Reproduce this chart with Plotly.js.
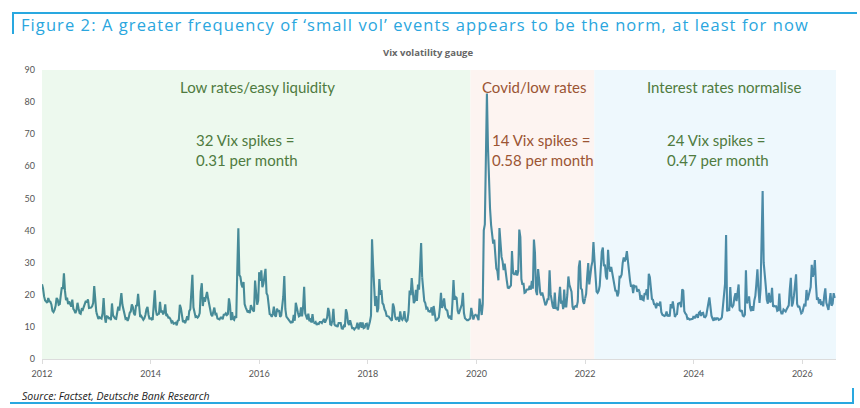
<!DOCTYPE html>
<html>
<head>
<meta charset="utf-8">
<script src="https://cdn.plot.ly/plotly-3.0.1.min.js"></script>
<style>
  html, body { margin: 0; padding: 0; background: #fff; }
  #wrap { position: relative; width: 860px; height: 408px; overflow: hidden; }
  #chart { position: absolute; left: 0; top: 0; width: 860px; height: 408px; }
  .bl { position: absolute; background: #29a8e0; }
  #chart .gtitle { letter-spacing: 1.08px; }
</style>
</head>
<body>
<div id="wrap">
  <div id="chart"></div>
  <div class="bl" style="left:12px; top:12px; width:845px; height:2px;"></div>
  <div class="bl" style="left:12px; top:12px; width:2px; height:22px;"></div>
  <div class="bl" style="left:10px; top:402px; width:844px; height:2px;"></div>
  <div class="bl" style="left:852px; top:388px; width:2px; height:16px;"></div>
</div>
<script>
// ---- Data: weekly VIX readings ----
const vix2012 = [23.3,22.0,19.5,18.2,17.9, 17.5,19.0,18.0,17.8, 17.0,15.0,14.6,15.3, 16.5,19.0,18.5,16.9, 17.1,19.9,22.3,21.8, 26.7,21.2,18.3,19.1,17.1, 17.9,16.7,16.3,18.5, 15.6,15.1,14.3,15.2,17.5, 15.8,14.3,14.1,15.5, 15.3,16.1,17.1,18.1, 17.6,18.6,15.9,15.9, 16.0,16.4,17.4,22.7,18.0];
const vix2013 = [14.6,13.4,12.5,13.0, 12.9,12.6,14.3,19.0, 13.5,11.3,13.3,13.2,12.7, 12.8,12.1,17.3,13.6, 12.9,12.6,12.5,13.9,16.3, 15.1,17.4,20.5,16.9, 14.9,14.0,12.5,12.7, 11.9,12.8,14.4,14.8,17.0, 16.2,14.2,13.6,16.6, 16.7,20.3,14.7,13.1, 13.4,12.9,12.2,12.7,13.7, 15.5,16.2,13.8,12.4];
const vix2014 = [12.9,12.3,12.4,18.1, 21.4,15.3,13.6,14.0, 14.1,17.8,14.5,15.1,13.9, 14.6,17.0,13.4,13.7, 12.9,12.9,12.4,11.4,11.7, 11.0,11.1,11.3, 10.5,11.9,12.1,16.9, 15.8,13.2,11.5,12.0,11.2, 12.1,13.3,12.1,14.9, 15.5,21.2,26.2,16.1,14.0, 13.1,13.3,12.9,13.3, 14.3,21.1,23.6,16.5,19.2];
const vix2015 = [17.8,19.4,20.9,18.9, 17.3,15.3,13.8,13.3, 15.2,16.0,14.0, 14.1,12.6,12.3,12.3, 12.9,12.9,12.4,13.8,13.8, 14.2,13.7,14.0,18.9, 16.8,12.1,14.6,12.5,12.2, 13.4,12.8,28.0,40.7,26.1, 25.6,23.2,22.3,24.0, 17.1,16.1,15.1,14.5,15.1, 14.3,16.8,15.5,15.1, 14.8,24.4,20.7,16.9,18.2];
const vix2016 = [27.0,24.3,27.6,22.4, 23.4,25.9,28.1,20.5, 19.8,16.9,14.0,13.8,13.1, 14.1,16.3,13.6,13.2, 15.7,14.7,15.2,13.1, 13.5,17.0,19.4,25.8,15.6, 13.2,12.7,12.4,12.0, 11.4,11.6,11.3,13.7, 11.9,17.5,15.4,14.5,13.3, 13.5,16.1,13.3,16.2, 22.5,14.2,12.9,12.3, 14.1,11.8,12.2,11.4,14.0];
const vix2017 = [11.3,11.2,11.5,10.6, 11.0,10.9,11.5,11.5, 11.2,11.7,12.5,11.3,12.4, 12.9,15.9,14.6,10.8, 10.6,12.0,15.6,10.8, 10.4,10.4,10.0,11.2,11.2, 11.2,9.5,9.4,10.3, 10.0,15.5,14.3,11.3,10.6, 12.1,10.2,9.6,9.6, 9.2,9.6,9.9,11.3, 9.2,10.5,11.4,9.7, 11.4,9.6,9.8,10.9,11.0];
const vix2018 = [9.2,10.2,11.7,13.5, 37.3,29.1,19.5,16.5, 19.6,14.6,15.8,24.9,20.0, 21.5,17.4,16.9,15.4, 14.8,13.4,13.4,13.2, 12.7,12.2,11.9,17.3,16.1, 13.4,12.2,12.6,13.0, 11.6,14.8,12.6,12.2,12.9, 14.9,12.1,11.7,12.1, 14.8,21.3,19.9,25.2, 19.5,17.4,18.1,21.5,18.1, 23.2,21.6,30.1,36.1];
const vix2019 = [25.4,20.5,18.1,17.4, 15.7,15.9,14.9,14.9, 14.6,16.1,13.5,16.5, 13.7,12.0,12.1,12.7, 13.0,16.0,20.6,15.9,16.9, 18.9,15.9,15.3,15.1, 13.3,12.7,13.5,12.2, 17.6,24.6,18.5,19.3,19.0, 15.0,14.0,15.3,16.2, 17.0,20.6,14.3,12.7, 12.3,12.1,12.1,12.3,12.6, 15.9,13.9,12.3,13.4,13.8];
const vix2020 = [13.8,12.6,12.1,18.8, 15.5,13.7,17.1,40.1, 41.9,57.8,82.7,66.0,53.5, 46.8,41.7,38.2,35.9, 37.2,31.9,28.2,27.5, 24.5,40.8,35.1,31.8,30.4, 27.7,29.7,25.8,24.5, 22.2,22.1,22.5,22.9, 33.6,26.9,26.4,26.4, 27.6,26.0,27.4,40.3,38.0, 24.9,23.1,23.7,20.6, 20.8,21.6,21.6,21.7,22.8];
const vix2021 = [21.6,24.3,21.9,37.2, 33.1,21.2,19.9,28.0, 24.7,20.7,19.8,20.7,19.4, 17.9,16.7,17.3,18.6, 18.6,27.6,20.2,17.6, 16.4,15.7,20.7,15.6,16.1, 15.1,18.5,22.5,17.2, 18.2,15.5,21.6,16.4, 16.4,20.1,25.7,23.1,22.0, 21.0,16.3,15.4,16.3, 16.5,16.3,17.9,28.6, 30.7,22.0,21.6,18.0,17.2];
const vix2022 = [18.8,20.3,25.6,29.9, 23.2,27.4,28.8,30.3, 36.4,30.8,23.9,21.0,20.6, 21.2,22.8,28.2,33.4, 34.7,28.9,29.4,25.7, 24.8,34.0,29.0,27.2,28.7, 26.7,24.2,23.0,21.3, 21.2,19.5,20.6,25.6, 25.5,26.3,29.9,31.6,30.4, 31.4,33.6,29.7,25.8, 24.5,22.5,23.1,20.5, 22.8,22.6,22.6,20.9,21.7];
const vix2023 = [21.1,18.4,19.9,18.5, 18.3,20.5,20.0,21.7, 18.5,26.5,25.5,21.7,18.7, 18.4,17.1,17.0,15.8, 17.2,17.0,16.8,17.9, 14.6,13.8,13.5,13.4,13.6, 14.8,13.3,13.6,13.3, 17.1,15.8,17.9,15.7, 13.1,13.8,14.0,17.2,17.5, 17.5,16.1,21.7,21.3, 14.9,14.2,13.8,12.5, 12.6,12.3,12.3,12.5,12.5];
const vix2024 = [13.4,12.7,13.3,13.9, 12.8,14.4,14.7,13.4, 14.3,14.4,13.1,13.0,13.5, 15.0,17.3,19.2,15.4, 13.5,12.6,11.9,12.9, 12.2,12.7,12.7,12.2,12.4, 12.5,13.0,16.5,18.5, 23.4,38.6,14.8,15.9,15.0, 22.4,16.6,16.2,16.8, 19.2,20.5,18.0,20.3,23.2, 15.2,14.9,15.2,13.5, 13.3,13.8,27.6,17.4];
const vix2025 = [17.9,19.5,16.0,14.9, 16.4,15.0,18.2,19.6, 23.4,27.9,21.8,17.5,21.8, 45.3,52.3,30.0,24.8, 22.7,18.4,17.2,20.6, 17.7,18.0,22.2,16.3,16.6, 16.4,16.4,15.0,15.2, 20.4,15.2,14.2,14.2,15.4, 15.2,14.8,15.5,16.3, 16.7,21.7,25.3,16.4, 17.4,19.8,23.4,26.4,17.2, 16.1,16.5,14.9,14.2];
const vix2026 = [14.5,15.8,17.2,16.4, 21.5,18.3,19.6,20.8, 22.4,29.3,25.6,26.8, 30.8,23.5,18.4,19.2,17.3, 18.6,16.8,17.9,16.4, 19.7,22.0,17.5,16.2, 15.3,17.8,20.5,16.6,17.2, 20.5,19.0];

const seriesByYear = [vix2012,vix2013,vix2014,vix2015,vix2016,vix2017,vix2018,vix2019,vix2020,vix2021,vix2022,vix2023,vix2024,vix2025,vix2026];
const firstYear = 2012;
const weeksPerYear = 52;

// Regimes
const regimeNames = ["Low rates/easy liquidity", "Covid/low rates", "Interest rates normalise"];
const regimeStart = [2012.0, 2019.89, 2022.17];
const regimeEnd   = [2019.89, 2022.17, 2026.62];
const regimeSpikes = ["32 Vix spikes =", "14 Vix spikes =", "24 Vix spikes ="];
const regimeRate   = ["0.31 per month", "0.58 per month", "0.47 per month"];

const tickYears = [2012, 2014, 2016, 2018, 2020, 2022, 2024, 2026];

// ---- Build traces ----
function lerp(a, b, t) { return Math.round(a + (b - a) * t); }
const c0 = [70, 139, 147], c1 = [76, 139, 170];
const traces = [];
seriesByYear.forEach((vals, k) => {
  const yr = firstYear + k;
  const xs = vals.map((v, i) => yr + i / weeksPerYear);
  const ys = vals.slice();
  if (k + 1 < seriesByYear.length) {
    xs.push(yr + 1);
    ys.push(seriesByYear[k + 1][0]);
  }
  const t = k / (seriesByYear.length - 1);
  traces.push({
    type: 'scatter', mode: 'lines', x: xs, y: ys,
    line: { color: `rgb(${lerp(c0[0],c1[0],t)},${lerp(c0[1],c1[1],t)},${lerp(c0[2],c1[2],t)})`, width: 2.1 },
    hoverinfo: 'skip', showlegend: false
  });
});

const fills = ['#edf9ee', '#fdf4f1', '#eef8fd'];
const labelColors = ['#4f7b40', '#9b5534', '#4f7b40'];
const shapes = regimeStart.map((s, i) => ({
  type: 'rect', xref: 'x', yref: 'paper', x0: s, x1: regimeEnd[i], y0: 0, y1: 1,
  fillcolor: fills[i], line: { width: 0 }, layer: 'below'
}));

const labelX = [2015.97, 2021.05, 2024.56];
const spikeX = [2014.8, 2020.25, 2023.47];
const annFont = 'Lato, "Open Sans", sans-serif';
const annotations = [];
regimeNames.forEach((n, i) => {
  annotations.push({ xref: 'x', yref: 'y', x: labelX[i], y: 84.7, text: n, showarrow: false,
    xanchor: 'center', yanchor: 'middle', font: { family: annFont, size: 15, color: labelColors[i] } });
  annotations.push({ xref: 'x', yref: 'y', x: spikeX[i], y: 65.2, text: regimeSpikes[i] + '<br>' + regimeRate[i],
    showarrow: false, xanchor: 'left', yanchor: 'middle', align: 'left',
    font: { family: annFont, size: 15, color: labelColors[i] } });
});
annotations.push({ xref: 'paper', yref: 'paper', x: 0.4866, y: 1.06, text: '<b>Vix volatility gauge</b>',
  showarrow: false, xanchor: 'center', yanchor: 'middle', font: { family: '"Open Sans", sans-serif', size: 9.5, color: '#666' } });
annotations.push({ xref: 'paper', yref: 'paper', x: -0.0277, y: -0.128, text: '<i>Source: Factset, Deutsche Bank Research</i>',
  showarrow: false, xanchor: 'left', yanchor: 'middle', font: { family: '"Open Sans", sans-serif', size: 10.5, color: '#222' } });

const layout = {
  width: 860, height: 408,
  margin: { l: 42, r: 24, t: 70, b: 49 },
  paper_bgcolor: '#fff', plot_bgcolor: '#fff',
  title: { text: 'Figure 2: A greater frequency of ‘small vol’ events appears to be the norm, at least for now',
    x: 21 / 860, xanchor: 'left', xref: 'container', y: 1 - 25 / 408, yanchor: 'middle', yref: 'container',
    font: { family: '"Open Sans", sans-serif', size: 16.5, color: '#2aa6de' } },
  xaxis: { range: [2012, 2026.62], tickvals: tickYears, ticktext: tickYears.map(String),
    showgrid: false, zeroline: false, showline: true, linecolor: '#dcdcdc', linewidth: 1,
    ticks: 'outside', ticklen: 4, tickcolor: '#dcdcdc', ticklabelstandoff: 2,
    tickfont: { family: annFont, size: 9, color: '#555' } },
  yaxis: { range: [0, 90], dtick: 10, showgrid: false, zeroline: false, showline: false,
    ticks: '', ticklabelstandoff: 6,
    tickfont: { family: annFont, size: 9, color: '#555' } },
  shapes: shapes,
  annotations: annotations,
  showlegend: false
};

Plotly.newPlot('chart', traces, layout, { staticPlot: true, displayModeBar: false });
</script>
</body>
</html>
